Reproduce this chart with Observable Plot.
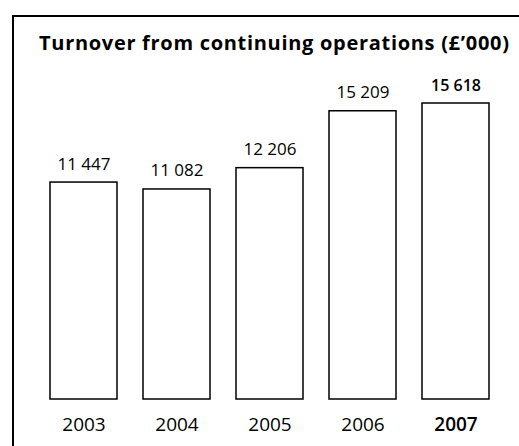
<!DOCTYPE html>
<html>
<head>
<meta charset="utf-8">
<script src="https://cdn.jsdelivr.net/npm/d3@7"></script>
<script src="https://cdn.jsdelivr.net/npm/@observablehq/plot@0.6"></script>
<style>
  html, body { margin: 0; padding: 0; background: #fff; }
  #wrap { position: relative; width: 519px; height: 446px; overflow: hidden; font-family: "Open Sans", sans-serif; }
  #frame { position: absolute; left: 12px; top: 15px; width: 700px; height: 700px; border-top: 2px solid #000; border-left: 2px solid #000; }
  #title { position: absolute; left: 39px; top: 33px; font-weight: bold; font-size: 20px; line-height: 20px; letter-spacing: 0.7px; color: #000; white-space: nowrap; }
  #chart { position: absolute; left: 0; top: 0; }
</style>
</head>
<body>
<div id="wrap">
  <div id="chart"></div>
  <div id="frame"></div>
  <div id="title">Turnover from continuing operations (£’000)</div>
</div>
<script>
const years = ["2003", "2004", "2005", "2006", "2007"];
const turnover = [11447, 11082, 12206, 15209, 15618];
const highlightYear = "2007";

const data = years.map((year, i) => ({year, value: turnover[i]}));
const fmt = d3.formatLocale({decimal: ".", thousands: " ", grouping: [3], currency: ["£", ""]}).format(",d");

const plot = Plot.plot({
  width: 519,
  height: 446,
  marginLeft: 23,
  marginRight: 4,
  marginTop: 103,
  marginBottom: 47,
  style: {fontFamily: "Open Sans, sans-serif", color: "#000", background: "transparent"},
  x: {type: "band", domain: years, padding: 0.28, axis: null},
  y: {domain: [0, d3.max(turnover)], axis: null},
  marks: [
    Plot.barY(data, {x: "year", y: "value", fill: "white", stroke: "black", strokeWidth: 1.5}),
    Plot.text(data.filter(d => d.year !== highlightYear), {x: "year", y: "value", text: d => fmt(d.value), lineAnchor: "bottom", dy: -13, fontSize: 17, fill: "black"}),
    Plot.text(data.filter(d => d.year === highlightYear), {x: "year", y: "value", text: d => fmt(d.value), lineAnchor: "bottom", dy: -13, fontSize: 16, fontWeight: 600, fill: "black"}),
    Plot.axisX(years.filter(y => y !== highlightYear), {tickSize: 0, tickPadding: 18, fontSize: 19, label: null}),
    Plot.axisX([highlightYear], {tickSize: 0, tickPadding: 18, fontSize: 19, fontWeight: 600, label: null})
  ]
});
document.getElementById("chart").appendChild(plot);
</script>
</body>
</html>
